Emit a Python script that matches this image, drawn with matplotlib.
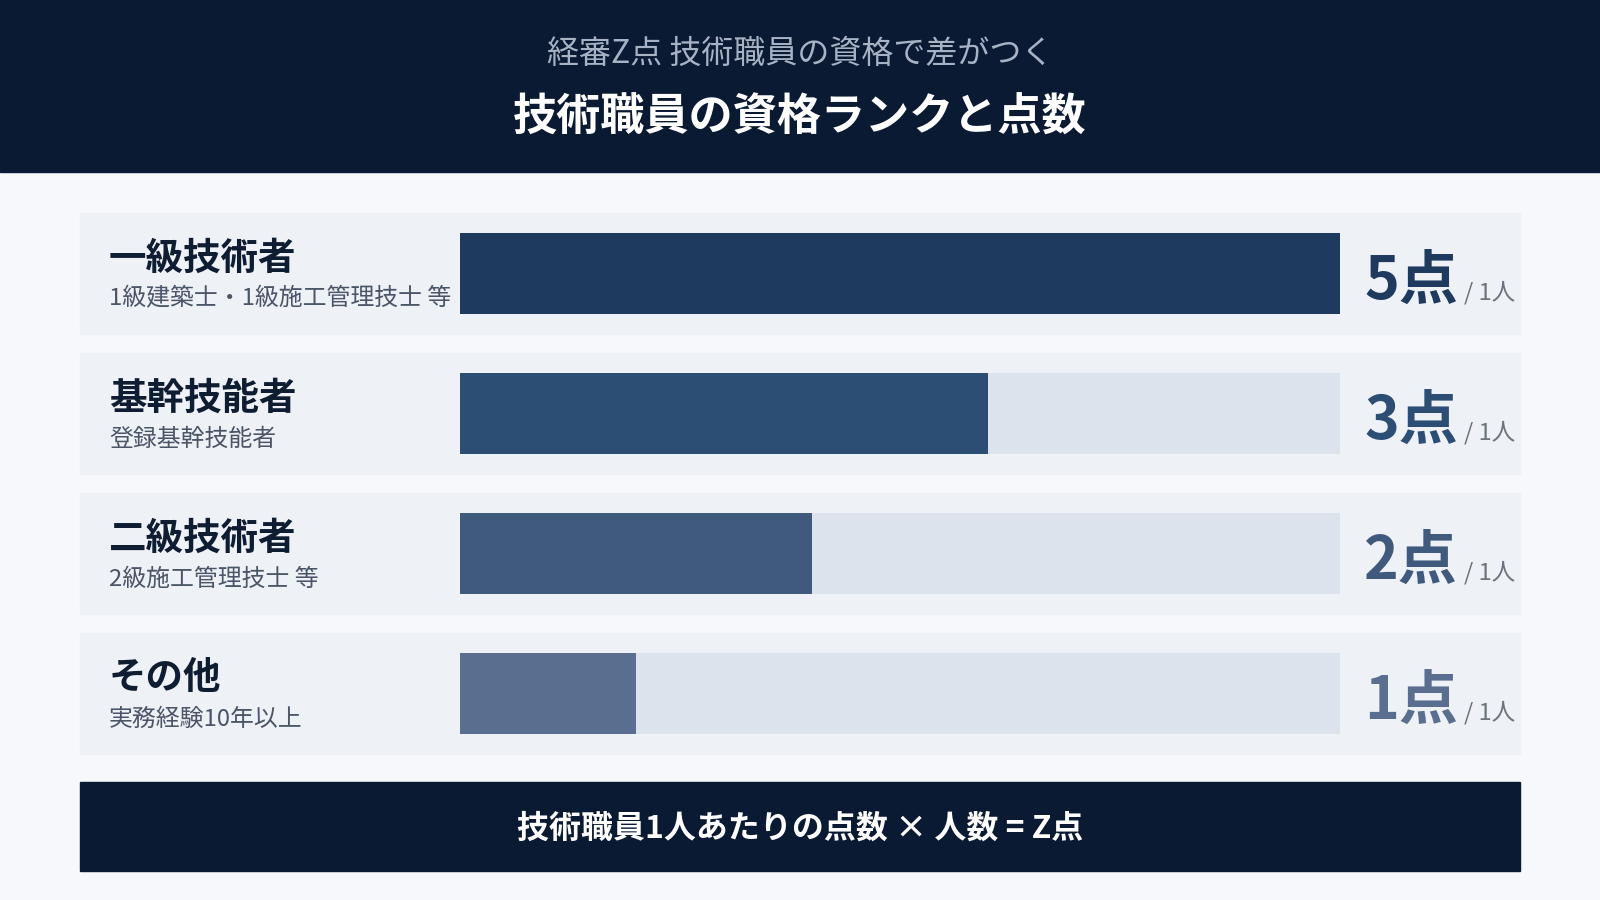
import matplotlib
matplotlib.use("Agg")
import matplotlib.pyplot as plt
from matplotlib.patches import Rectangle
import numpy as np

plt.rcParams['font.family'] = ['Noto Sans CJK JP', 'DejaVu Sans']

# ---- data ----
categories = ["一級技術者", "基幹技能者", "二級技術者", "その他"]
descriptions = ["1級建築士・1級施工管理技士 等", "登録基幹技能者", "2級施工管理技士 等", "実務経験10年以上"]
points = [5, 3, 2, 1]
point_labels = ["5点", "3点", "2点", "1点"]
unit_label = "/ 1人"
max_points = 5
subtitle = "経審Z点 技術職員の資格で差がつく"
title = "技術職員の資格ランクと点数"
footer = "技術職員1人あたりの点数 × 人数 = Z点"

# ---- styles ----
bar_colors = ["#1f3a5f", "#2c4e75", "#3f5a7d", "#5a6f8f"]
navy = "#0b1a33"
fig_bg = "#f6f8fb"
panel_bg = "#eef1f6"
track_bg = "#dde3ed"

W, H = 1600, 900
fig = plt.figure(figsize=(16, 9), dpi=100)
fig.patch.set_facecolor(fig_bg)

# canvas axes in pixel coordinates
cv = fig.add_axes([0, 0, 1, 1])
cv.set_xlim(0, W)
cv.set_ylim(H, 0)
cv.axis("off")

# header
cv.add_patch(Rectangle((0, 0), W, 172, color=navy, zorder=1))
cv.text(W / 2, 54, subtitle, color="#a7b2c4", fontsize=23, ha="center", va="center", zorder=2)
cv.text(W / 2, 118, title, color="white", fontsize=31.8, fontweight="bold", ha="center", va="center", zorder=2)

# row layout
row_top0 = 203
row_pitch = 140
panel_h = 121
panel_x0, panel_x1 = 80, 1520
bar_x0, bar_x1 = 460, 1340

n = len(categories)
centers = [row_top0 + row_pitch / 2 + i * row_pitch for i in range(n)]
for i, c in enumerate(centers):
    cv.add_patch(Rectangle((panel_x0, c - panel_h / 2), panel_x1 - panel_x0, panel_h,
                           color=panel_bg, zorder=1))
    cv.text(109, c - 15, categories[i], color="#0f1d33", fontsize=27, fontweight="bold",
            ha="left", va="center", zorder=3)
    cv.text(109, c + 26, descriptions[i], color="#4a5568", fontsize=17.2,
            ha="left", va="center", zorder=3)
    cv.text(1364, c + 27, point_labels[i], color=bar_colors[i], fontsize=42.5,
            fontweight="bold", ha="left", va="baseline", zorder=3)
    cv.text(1464, c + 27, unit_label, color="#6b7280", fontsize=17,
            ha="left", va="baseline", zorder=3)

# footer
cv.add_patch(Rectangle((80, 782), 1440, 89, color=navy, zorder=1))
cv.text(W / 2, 829, footer, color="white", fontsize=23, fontweight="bold",
        ha="center", va="center", zorder=2)

# bar axes
bx = fig.add_axes([bar_x0 / W, 1 - (row_top0 + n * row_pitch) / H,
                   (bar_x1 - bar_x0) / W, n * row_pitch / H])
bx.set_xlim(0, max_points)
bx.set_ylim(n - 0.5, -0.5)
bx.axis("off")
bx.patch.set_alpha(0)
ypos = np.arange(n)
bh = 81 / row_pitch
bx.barh(ypos, [max_points] * n, height=bh, color=track_bg, zorder=1)
bx.barh(ypos, points, height=bh, color=bar_colors, zorder=2)

fig.savefig("out.png", dpi=100, facecolor=fig.get_facecolor())
